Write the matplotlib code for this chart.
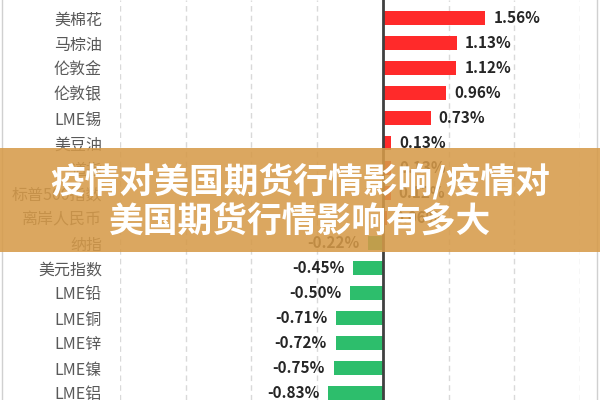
import matplotlib
matplotlib.use("Agg")
import matplotlib.pyplot as plt
from matplotlib.patches import Rectangle

plt.rcParams['font.family'] = ['Noto Sans CJK SC', 'DejaVu Sans']

categories = ["美原油", "美棉花", "马棕油", "伦敦金", "伦敦银", "LME锡", "美豆油", "道指",
              "标普500指数", "离岸人民币", "纳指", "美元指数", "LME铅", "LME铜", "LME锌",
              "LME镍", "LME铝"]
values = [2.38, 1.56, 1.13, 1.12, 0.96, 0.73, 0.13, 0.13, 0.12, 0.06, -0.22, -0.45,
          -0.50, -0.71, -0.72, -0.75, -0.83]
grid_ticks = [-4, -3, -2, -1, 1, 2, 3]
title_lines = ["疫情对美国期货行情影响/疫情对", "美国期货行情影响有多大"]

fig = plt.figure(figsize=(6, 4), dpi=100)
ax = fig.add_axes([120/600, 0, 460/600, 1])

pos = [i - 1 for i in range(len(categories))]
colors = ['#FF2A2A' if v >= 0 else '#2DBE6C' for v in values]
ax.barh(pos, values, height=0.56, color=colors, zorder=3)

for x in grid_ticks:
    ax.axvline(x, color='#D9D9D9', lw=1, ls=(0, (4, 3)), zorder=1)
ax.axvline(0, color='#404040', lw=2, zorder=4)

ax.set_yticks(pos)
ax.set_yticklabels(categories, fontsize=11.5, color='#595959')
ax.tick_params(axis='y', length=0, pad=13)
ax.set_xticks([])
for s in ax.spines.values():
    s.set_visible(False)
ax.patch.set_alpha(0)

# limits set after ticks (set_yticks would otherwise expand them)
ax.set_xlim(-4, 3)
ax.set_ylim(15.28, -0.72)

for p, v in zip(pos, values):
    txt = f"{v:.2f}%"
    if v >= 0:
        ax.annotate(txt, (v, p), xytext=(8, 0), textcoords='offset pixels',
                    ha='left', va='center', fontsize=11, fontweight='bold', color='#262626', zorder=5)
    else:
        ax.annotate(txt, (v, p), xytext=(-9, 0), textcoords='offset pixels',
                    ha='right', va='center', fontsize=11, fontweight='bold', color='#262626', zorder=5)

# outer light border
fig.patches.append(Rectangle((2/600, -0.01), 595/600, 1.02, transform=fig.transFigure,
                             fill=False, edgecolor='#D0D0D0', lw=1))

# banner overlay
fig.patches.append(Rectangle((0, (400-252)/400), 1, 104/400, transform=fig.transFigure,
                             facecolor='#D69A48', alpha=0.87, edgecolor='none', zorder=10))
fig.text(0.5, 1 - 181/400, title_lines[0], ha='center', va='center', fontsize=25,
         fontweight='heavy', color='white', zorder=11)
fig.text(0.5, 1 - 221/400, title_lines[1], ha='center', va='center', fontsize=25,
         fontweight='heavy', color='white', zorder=11)

fig.savefig('out.png', dpi=100)
